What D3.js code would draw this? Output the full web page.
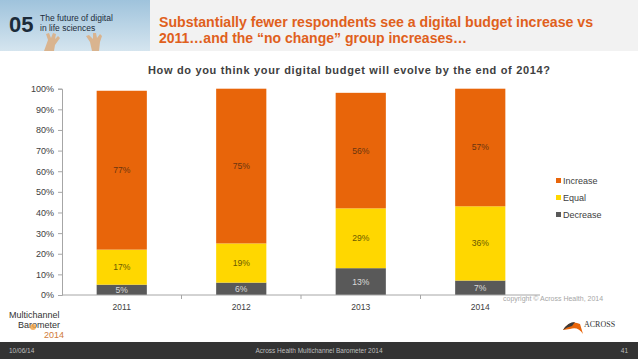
<!DOCTYPE html>
<html><head><meta charset="utf-8">
<script src="https://cdn.jsdelivr.net/npm/d3@7"></script>
<style>body{margin:0;background:#fff;}svg{display:block;font-family:Arial,"Liberation Sans",sans-serif;}</style>
</head><body><svg id="c" width="638" height="359"></svg>
<script>
const categories = ["2011","2012","2013","2014"];
const seriesNames = ["Decrease","Equal","Increase"];
const decrease = [5,6,13,7];
const equal = [17,19,29,36];
const increase = [77,75,56,57];
const yTicks = [0,10,20,30,40,50,60,70,80,90,100];
const colors = {Decrease:"#595959", Equal:"#ffd700", Increase:"#e8650a"};
const labelColors = {Decrease:"#d9d9d9", Equal:"#6b5a00", Increase:"#6a3510"};

const svg = d3.select("#c");
// header
const defs = svg.append("defs");
const g1 = defs.append("linearGradient").attr("id","sky").attr("x1",0).attr("y1",0).attr("x2",0).attr("y2",1);
g1.append("stop").attr("offset","0%").attr("stop-color","#9fc3dc");
g1.append("stop").attr("offset","100%").attr("stop-color","#d5e5ef");
svg.append("rect").attr("x",0).attr("y",0).attr("width",638).attr("height",51).attr("fill","#f2f2f2");
svg.append("rect").attr("x",0).attr("y",0).attr("width",150).attr("height",51).attr("fill","url(#sky)");
// hands (simple shapes)
svg.append("path").attr("d","M44,51 L48,40 L46,34 L49,33 L51,38 L53,33 L56,34 L55,39 L58,36 L60,38 L55,45 L54,51 Z").attr("fill","#d9b48f");
svg.append("path").attr("d","M92,51 L90,42 L86,36 L89,35 L93,39 L93,33 L96,33 L97,38 L100,34 L102,36 L100,42 L99,51 Z").attr("fill","#d9b48f");
svg.append("text").attr("x",9).attr("y",32).attr("font-size",22).attr("font-weight","bold").attr("fill","#1c2b3a").text("05");
svg.append("text").attr("x",40).attr("y",21).attr("font-size",8.5).attr("fill","#1c2b3a").text("The future of digital");
svg.append("text").attr("x",40).attr("y",31).attr("font-size",8.5).attr("fill","#1c2b3a").text("in life sciences");
svg.append("text").attr("x",159).attr("y",26.5).attr("font-size",14).attr("font-weight","bold").attr("fill","#e0601c")
  .attr("textLength",434).attr("lengthAdjust","spacingAndGlyphs").text("Substantially fewer respondents see a digital budget increase vs");
svg.append("text").attr("x",159).attr("y",42.5).attr("font-size",14).attr("font-weight","bold").attr("fill","#e0601c")
  .attr("textLength",308).attr("lengthAdjust","spacingAndGlyphs").text("2011\u2026and the \u201cno change\u201d group increases\u2026");

// chart title
svg.append("text").attr("x",148).attr("y",74).attr("font-size",11).attr("font-weight","bold").attr("fill","#404040")
  .attr("textLength",402).attr("lengthAdjust","spacing").text("How do you think your digital budget will evolve by the end of 2014?");

const x = d3.scaleBand().domain(categories).range([62,540]).paddingInner(0.58).paddingOuter(0.29);
const xb = d3.scaleBand().domain(categories).range([62,540]);
const y = d3.scaleLinear().domain([0,100]).range([295,88.7]);

const data = categories.map((c,i)=>({cat:c, Decrease:decrease[i], Equal:equal[i], Increase:increase[i]}));
const stack = d3.stack().keys(seriesNames)(data);

stack.forEach(layer=>{
  const key = layer.key;
  svg.append("g").selectAll("rect").data(layer).join("rect")
    .attr("x",d=>x(d.data.cat)).attr("width",x.bandwidth())
    .attr("y",d=>y(d[1])).attr("height",d=>y(d[0])-y(d[1]))
    .attr("fill",colors[key]);
  svg.append("g").selectAll("text").data(layer).join("text")
    .attr("x",d=>x(d.data.cat)+x.bandwidth()/2)
    .attr("y",d=>(y(d[0])+y(d[1]))/2+3)
    .attr("text-anchor","middle").attr("font-size",8.6).attr("fill",labelColors[key])
    .text(d=>(d[1]-d[0])+"%");
});

// y axis
const yAxis = svg.append("g").attr("transform","translate(62,0)")
  .call(d3.axisLeft(y).tickValues(yTicks).tickSize(4).tickFormat(d=>d+"%"));
yAxis.select(".domain").attr("stroke","#a6a6a6");
yAxis.selectAll(".tick line").attr("stroke","#a6a6a6");
yAxis.selectAll(".tick text").attr("font-size",9).attr("fill","#404040").attr("font-family","Arial").attr("x",-8);

// x axis
const xAxis = svg.append("g").attr("transform","translate(0,295)")
  .call(d3.axisBottom(x).tickSize(0).tickPadding(9));
xAxis.select(".domain").attr("stroke","#a6a6a6").attr("d","M62,0H540");
xAxis.selectAll(".tick text").attr("font-size",8.5).attr("fill","#404040").attr("font-family","Arial");
svg.append("g").selectAll("line").data(categories.slice(1)).join("line")
  .attr("x1",d=>xb(d)).attr("x2",d=>xb(d)).attr("y1",295).attr("y2",299).attr("stroke","#a6a6a6");

// legend
const leg = svg.append("g");
["Increase","Equal","Decrease"].forEach((k,i)=>{
  leg.append("rect").attr("x",556).attr("y",178+i*17).attr("width",5).attr("height",5).attr("fill",colors[k]);
  leg.append("text").attr("x",563).attr("y",184+i*17).attr("font-size",9).attr("fill","#404040").text(k);
});

svg.append("text").attr("x",503).attr("y",301).attr("font-size",7).attr("fill","#a6a6a6").text("copyright \u00a9 Across Health, 2014");

// bottom-left logo
svg.append("text").attr("x",9).attr("y",318).attr("font-size",9).attr("fill","#333").text("Multichannel");
svg.append("text").attr("x",18).attr("y",328).attr("font-size",9).attr("fill","#333").text("Barometer");
svg.append("text").attr("x",44).attr("y",338).attr("font-size",9).attr("fill","#d07a3a").text("2014");
svg.append("circle").attr("cx",33).attr("cy",327).attr("r",3).attr("fill","#f0a040").attr("opacity",0.8);

// right logo
svg.append("path").attr("d","M563,330 Q570,319 580,324 L583,334 Q578,326 570,329 Z").attr("fill","#e8650a");
svg.append("path").attr("d","M563,330 Q568,322 575,322 L572,326 Q567,327 563,330 Z").attr("fill","#3a3a3a");
svg.append("text").attr("x",584).attr("y",327).attr("font-size",8).attr("font-family","Liberation Serif, serif").attr("fill","#333").text("ACROSS");

// footer
svg.append("rect").attr("x",0).attr("y",342).attr("width",638).attr("height",17).attr("fill","#333333");
svg.append("text").attr("x",9).attr("y",353).attr("font-size",6.5).attr("fill","#bfbfbf").text("10/06/14");
svg.append("text").attr("x",319).attr("y",353).attr("text-anchor","middle").attr("font-size",6.5).attr("fill","#bfbfbf").text("Across Health Multichannel Barometer 2014");
svg.append("text").attr("x",628).attr("y",353).attr("text-anchor","end").attr("font-size",6.5).attr("fill","#bfbfbf").text("41");
</script></body></html>
